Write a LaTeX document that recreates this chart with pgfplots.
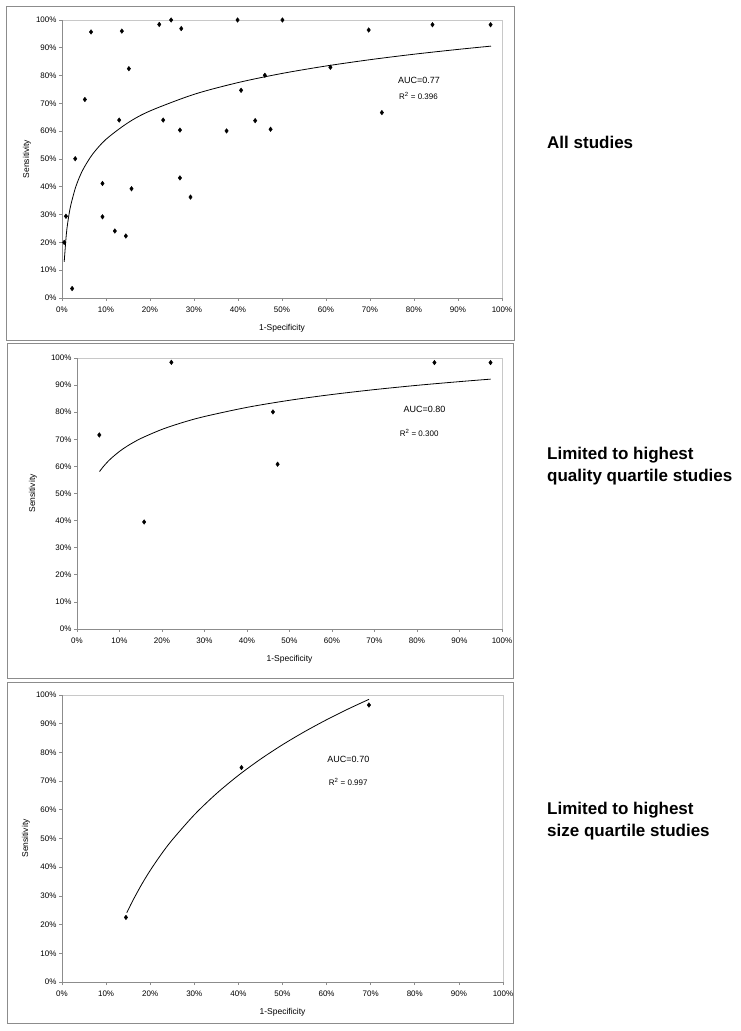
\documentclass[border=0pt]{standalone}
\usepackage{fontspec}
\setmainfont{Liberation Sans}
\usepackage{pgfplots}
\pgfplotsset{compat=1.18}

\definecolor{axgray}{HTML}{8C8C8C}
\definecolor{boxgray}{HTML}{C8C8C8}

\pgfplotsset{
  rocaxis/.style={
    scale only axis,
    anchor=south west,
    xmin=0, xmax=100, ymin=0, ymax=100,
    xtick={0,10,...,100}, ytick={0,10,...,100},
    xticklabels={0\%,10\%,20\%,30\%,40\%,50\%,60\%,70\%,80\%,90\%,100\%},
    yticklabels={0\%,10\%,20\%,30\%,40\%,50\%,60\%,70\%,80\%,90\%,100\%},
    axis x line*=bottom, axis y line*=left,
    axis line style={axgray, line width=0.7pt, -},
    axis background/.style={draw=boxgray, line width=0.7pt},
    tick align=outside, major tick length=3pt,
    tick style={axgray, line width=0.7pt},
    tick label style={font=\fontsize{8}{9.6}\selectfont},
    xticklabel style={yshift=-2pt},
    yticklabel style={xshift=1pt},
    xlabel={1-Specificity}, ylabel={Sensitivity},
    label style={font=\fontsize{8.5}{10}\selectfont},
    xlabel style={yshift=-5pt},
    clip=false,
  },
  ylab/.style={ylabel style={at={(axis description cs:0,0.5)}, anchor=center, yshift=#1}},
  pts/.style={only marks, mark=diamond*, mark size=2.3pt, black},
  fit/.style={no marks, black, line width=0.8pt, smooth},
}

\begin{document}
\begin{tikzpicture}
\path (0pt,0pt) rectangle (741pt,1031pt);

% frames
\draw[axgray, line width=0.8pt] (6pt,691pt) rectangle (514pt,1025pt);
\draw[axgray, line width=0.8pt] (7pt,353pt) rectangle (513pt,688pt);
\draw[axgray, line width=0.8pt] (7pt,8pt) rectangle (513pt,349pt);

% panel 1: all studies
\begin{axis}[rocaxis, ylab=35pt, at={(62pt,733pt)}, width=440pt, height=278pt]
\addplot[pts] coordinates {
  (0.5,20.0) (0.9,29.4) (2.3,3.4) (3.0,50.1) (5.2,71.4) (6.6,95.7)
  (9.2,41.2) (9.2,29.2) (12.0,24.1) (13.0,64.0) (13.6,96.0) (14.5,22.3)
  (15.2,82.5) (15.8,39.3) (22.1,98.4) (23.0,64.0) (24.8,100) (26.8,60.4)
  (26.8,43.2) (27.1,96.9) (29.2,36.3) (37.4,60.1) (39.9,100) (40.7,74.7)
  (43.9,63.8) (46.1,80.1) (47.4,60.7) (50.1,100) (61.0,83.0) (69.7,96.4)
  (72.7,66.7) (84.2,98.3) (97.4,98.3)
};
\addplot[fit] coordinates {
  (0.5,12.98) (1,23.18) (1.5,29.15) (2,33.39) (3,39.35) (4,43.59)
  (5,46.87) (7,51.83) (10,57.08) (15,63.04) (20,67.28) (30,73.25)
  (40,77.48) (50,80.77) (60,83.45) (70,85.72) (80,87.69) (90,89.42)
  (97.5,90.60)
};
\node[anchor=west, font=\fontsize{9}{11}\selectfont] at (axis cs:75.6,78.4) {AUC=0.77};
\node[anchor=west, font=\fontsize{8}{10}\selectfont] at (axis cs:75.8,72.7) {R\textsuperscript{2} = 0.396};
\end{axis}

% panel 2: highest quality quartile
\begin{axis}[rocaxis, ylab=44pt, at={(77pt,402pt)}, width=425pt, height=271pt]
\addplot[pts] coordinates {
  (5.25,71.6) (15.8,39.5) (22.2,98.4) (46.1,80.1) (47.2,60.8) (84.1,98.3) (97.3,98.3)
};
\addplot[fit] coordinates {
  (5.3,58.09) (6,59.55) (7,61.35) (8,62.92) (10,65.53) (12,67.67)
  (15,70.29) (20,73.66) (25,76.27) (30,78.41) (40,81.78) (50,84.40)
  (60,86.53) (70,88.34) (80,89.91) (90,91.28) (97.3,92.20)
};
\node[anchor=west, font=\fontsize{9}{11}\selectfont] at (axis cs:76.0,81.2) {AUC=0.80};
\node[font=\fontsize{8}{10}\selectfont] at (axis cs:80.5,72.3) {R\textsuperscript{2} = 0.300};
\end{axis}

% panel 3: highest size quartile
\begin{axis}[rocaxis, ylab=36pt, at={(62pt,49pt)}, width=441pt, height=287pt]
\addplot[pts] coordinates {
  (14.5,22.5) (40.7,74.7) (69.6,96.5)
};
\addplot[fit] coordinates {
  (14.7,24.15) (16,28.20) (18,33.83) (20,38.87) (22.5,44.50) (25,49.53)
  (30,58.25) (35,65.62) (40,72.00) (45,77.63) (50,82.67) (55,87.22)
  (60,91.38) (65,95.21) (69.6,98.48)
};
\node[anchor=west, font=\fontsize{9}{11}\selectfont] at (axis cs:59.4,77.4) {AUC=0.70};
\node[font=\fontsize{8}{10}\selectfont] at (axis cs:64.9,69.7) {R\textsuperscript{2} = 0.997};
\end{axis}

% panel captions
\begin{scope}[every node/.style={anchor=base west, inner sep=0pt, font=\bfseries\fontsize{17}{20}\selectfont}]
\node at (547pt,882pt) {All studies};
\node at (547pt,571pt) {Limited to highest};
\node at (547pt,549pt) {quality quartile studies};
\node at (547pt,216pt) {Limited to highest};
\node at (547pt,194pt) {size quartile studies};
\end{scope}
\end{tikzpicture}
\end{document}
